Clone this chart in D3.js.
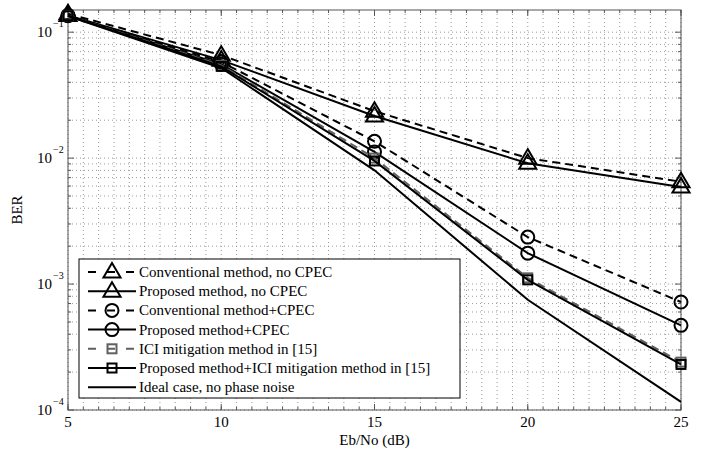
<!DOCTYPE html>
<html><head><meta charset="utf-8">
<script src="https://cdn.jsdelivr.net/npm/d3@7"></script>
<style>body{margin:0;background:#fff}svg{display:block}text{font-family:"Liberation Serif","Times New Roman",serif;fill:#000}</style>
</head><body><div id="chart"></div>
<script>
const snr = [5, 10, 15, 20, 25];
const convNoCpec   = [0.140, 0.0657, 0.0236, 0.0100, 0.0065];
const propNoCpec   = [0.136, 0.0600, 0.0216, 0.0091, 0.0059];
const convCpec     = [0.136, 0.0580, 0.0136, 0.00236, 0.00072];
const propCpec     = [0.135, 0.0557, 0.0112, 0.00176, 0.00047];
const iciMit       = [0.135, 0.0545, 0.0100, 0.00112, 0.00024];
const propIci      = [0.135, 0.0535, 0.0095, 0.00108, 0.00023];
const ideal        = [0.134, 0.0520, 0.0080, 0.00075, 0.000116];
const seriesNames = ["Conventional method, no CPEC","Proposed method, no CPEC","Conventional method+CPEC","Proposed method+CPEC","ICI mitigation method in [15]","Proposed method+ICI mitigation method in [15]","Ideal case, no phase noise"];
const xTicks = [5, 10, 15, 20, 25];
const yTickExp = [-1, -2, -3, -4];
const xLabel = "Eb/No (dB)";
const yLabel = "BER";

const series = [
  {name: seriesNames[0], v: convNoCpec, color:"#000", dash:"8,5", marker:"tri"},
  {name: seriesNames[1], v: propNoCpec, color:"#000", dash:null, marker:"tri"},
  {name: seriesNames[2], v: convCpec, color:"#000", dash:"8,5", marker:"circ"},
  {name: seriesNames[3], v: propCpec, color:"#000", dash:null, marker:"circ"},
  {name: seriesNames[4], v: iciMit, color:"#606060", dash:"8,5", marker:"sq"},
  {name: seriesNames[5], v: propIci, color:"#000", dash:null, marker:"sq"},
  {name: seriesNames[6], v: ideal, color:"#000", dash:null, marker:null}
];

const W = 704, H = 451;
const m = {l: 68, r: 23, t: 10, b: 41};
const svg = d3.select("#chart").append("svg").attr("width", W).attr("height", H);
const x = d3.scaleLinear().domain([5, 25]).range([m.l, W - m.r]);
const y = d3.scaleLog().domain([1e-4, 0.15]).range([H - m.b, m.t]);

// grid
const g = svg.append("g");
const xMinor = d3.range(5, 25.01, 0.5);
g.selectAll(".vg").data(xMinor).join("line")
  .attr("x1", d => x(d)).attr("x2", d => x(d)).attr("y1", m.t).attr("y2", H - m.b)
  .attr("stroke", "#999").attr("stroke-width", 1).attr("stroke-dasharray", "1,3");
const yMinor = [];
for (let e = -4; e <= -1; e++) for (let k = 1; k <= 9; k++) { const v = k * Math.pow(10, e); if (v >= 1e-4 && v <= 0.15) yMinor.push(v); }
g.selectAll(".hg").data(yMinor).join("line")
  .attr("x1", m.l).attr("x2", W - m.r).attr("y1", d => y(d)).attr("y2", d => y(d))
  .attr("stroke", "#999").attr("stroke-width", 1).attr("stroke-dasharray", "1,3");

// ticks
const tk = svg.append("g").attr("stroke", "#555").attr("stroke-width", 1);
xTicks.forEach(t => {
  tk.append("line").attr("x1", x(t)).attr("x2", x(t)).attr("y1", H - m.b).attr("y2", H - m.b - 6);
  tk.append("line").attr("x1", x(t)).attr("x2", x(t)).attr("y1", m.t).attr("y2", m.t + 6);
});
xMinor.forEach(t => {
  tk.append("line").attr("x1", x(t)).attr("x2", x(t)).attr("y1", H - m.b).attr("y2", H - m.b - 3);
  tk.append("line").attr("x1", x(t)).attr("x2", x(t)).attr("y1", m.t).attr("y2", m.t + 3);
});
yMinor.forEach(v => {
  const major = Math.abs(Math.log10(v) - Math.round(Math.log10(v))) < 1e-9;
  const L = major ? 6 : 3;
  tk.append("line").attr("x1", m.l).attr("x2", m.l + L).attr("y1", y(v)).attr("y2", y(v));
  tk.append("line").attr("x1", W - m.r).attr("x2", W - m.r - L).attr("y1", y(v)).attr("y2", y(v));
});
svg.append("rect").attr("x", m.l).attr("y", m.t).attr("width", W - m.l - m.r).attr("height", H - m.t - m.b)
  .attr("fill", "none").attr("stroke", "#555").attr("stroke-width", 1);

// tick labels
svg.selectAll(".xl").data(xTicks).join("text")
  .attr("x", d => x(d)).attr("y", H - m.b + 17).attr("text-anchor", "middle").attr("font-size", 15).text(d => d);
yTickExp.forEach(e => {
  const t = svg.append("text").attr("x", 52).attr("y", y(Math.pow(10, e)) + 5).attr("text-anchor", "end").attr("font-size", 15);
  t.text("10");
  svg.append("text").attr("x", 53).attr("y", y(Math.pow(10, e)) - 5).attr("font-size", 10).text("\u2212" + Math.abs(e));
});
svg.append("text").attr("x", x(15)).attr("y", H - 6).attr("text-anchor", "middle").attr("font-size", 15).text(xLabel);
svg.append("text").attr("transform", `translate(22,${(m.t + H - m.b) / 2}) rotate(-90)`).attr("text-anchor", "middle").attr("font-size", 15).text(yLabel);

// markers
function drawMarker(sel, type, cx, cy, color, filled) {
  if (type === "tri") {
    const s = 9;
    sel.append("path").attr("d", `M${cx},${cy - s} L${cx + s * 0.95},${cy + s * 0.62} L${cx - s * 0.95},${cy + s * 0.62} Z`)
      .attr("fill", "none").attr("stroke", color).attr("stroke-width", 2);
  } else if (type === "circ") {
    sel.append("circle").attr("cx", cx).attr("cy", cy).attr("r", 6.5).attr("fill", "none").attr("stroke", color).attr("stroke-width", 2);
  } else if (type === "sq") {
    sel.append("rect").attr("x", cx - 4.5).attr("y", cy - 4.5).attr("width", 9).attr("height", 9)
      .attr("fill", "none").attr("stroke", color).attr("stroke-width", 2);
  }
}

const line = d3.line().x((d, i) => x(snr[i])).y(d => y(d));
const plot = svg.append("g");
series.forEach(s => {
  plot.append("path").datum(s.v).attr("d", line).attr("fill", "none").attr("stroke", s.color)
    .attr("stroke-width", 2).attr("stroke-dasharray", s.dash);
  if (s.marker) s.v.forEach((v, i) => drawMarker(plot, s.marker, x(snr[i]), y(v), s.color));
});

// legend
const lg = svg.append("g");
const lx = 79, ly = 259, lw = 381, lh = 139;
lg.append("rect").attr("x", lx).attr("y", ly).attr("width", lw).attr("height", lh).attr("fill", "#fff").attr("stroke", "#000").attr("stroke-width", 1);
series.forEach((s, i) => {
  const cy = 272 + i * 19.2;
  lg.append("line").attr("x1", 88).attr("x2", 136).attr("y1", cy).attr("y2", cy).attr("stroke", s.color)
    .attr("stroke-width", 2).attr("stroke-dasharray", s.dash ? "8,11" : null).attr("stroke-dashoffset", s.dash ? 0 : null);
  if (s.marker) drawMarker(lg, s.marker, 112, cy, s.color);
  lg.append("text").attr("x", 139).attr("y", cy + 5).attr("font-size", 15).text(s.name);
});
</script></body></html>
